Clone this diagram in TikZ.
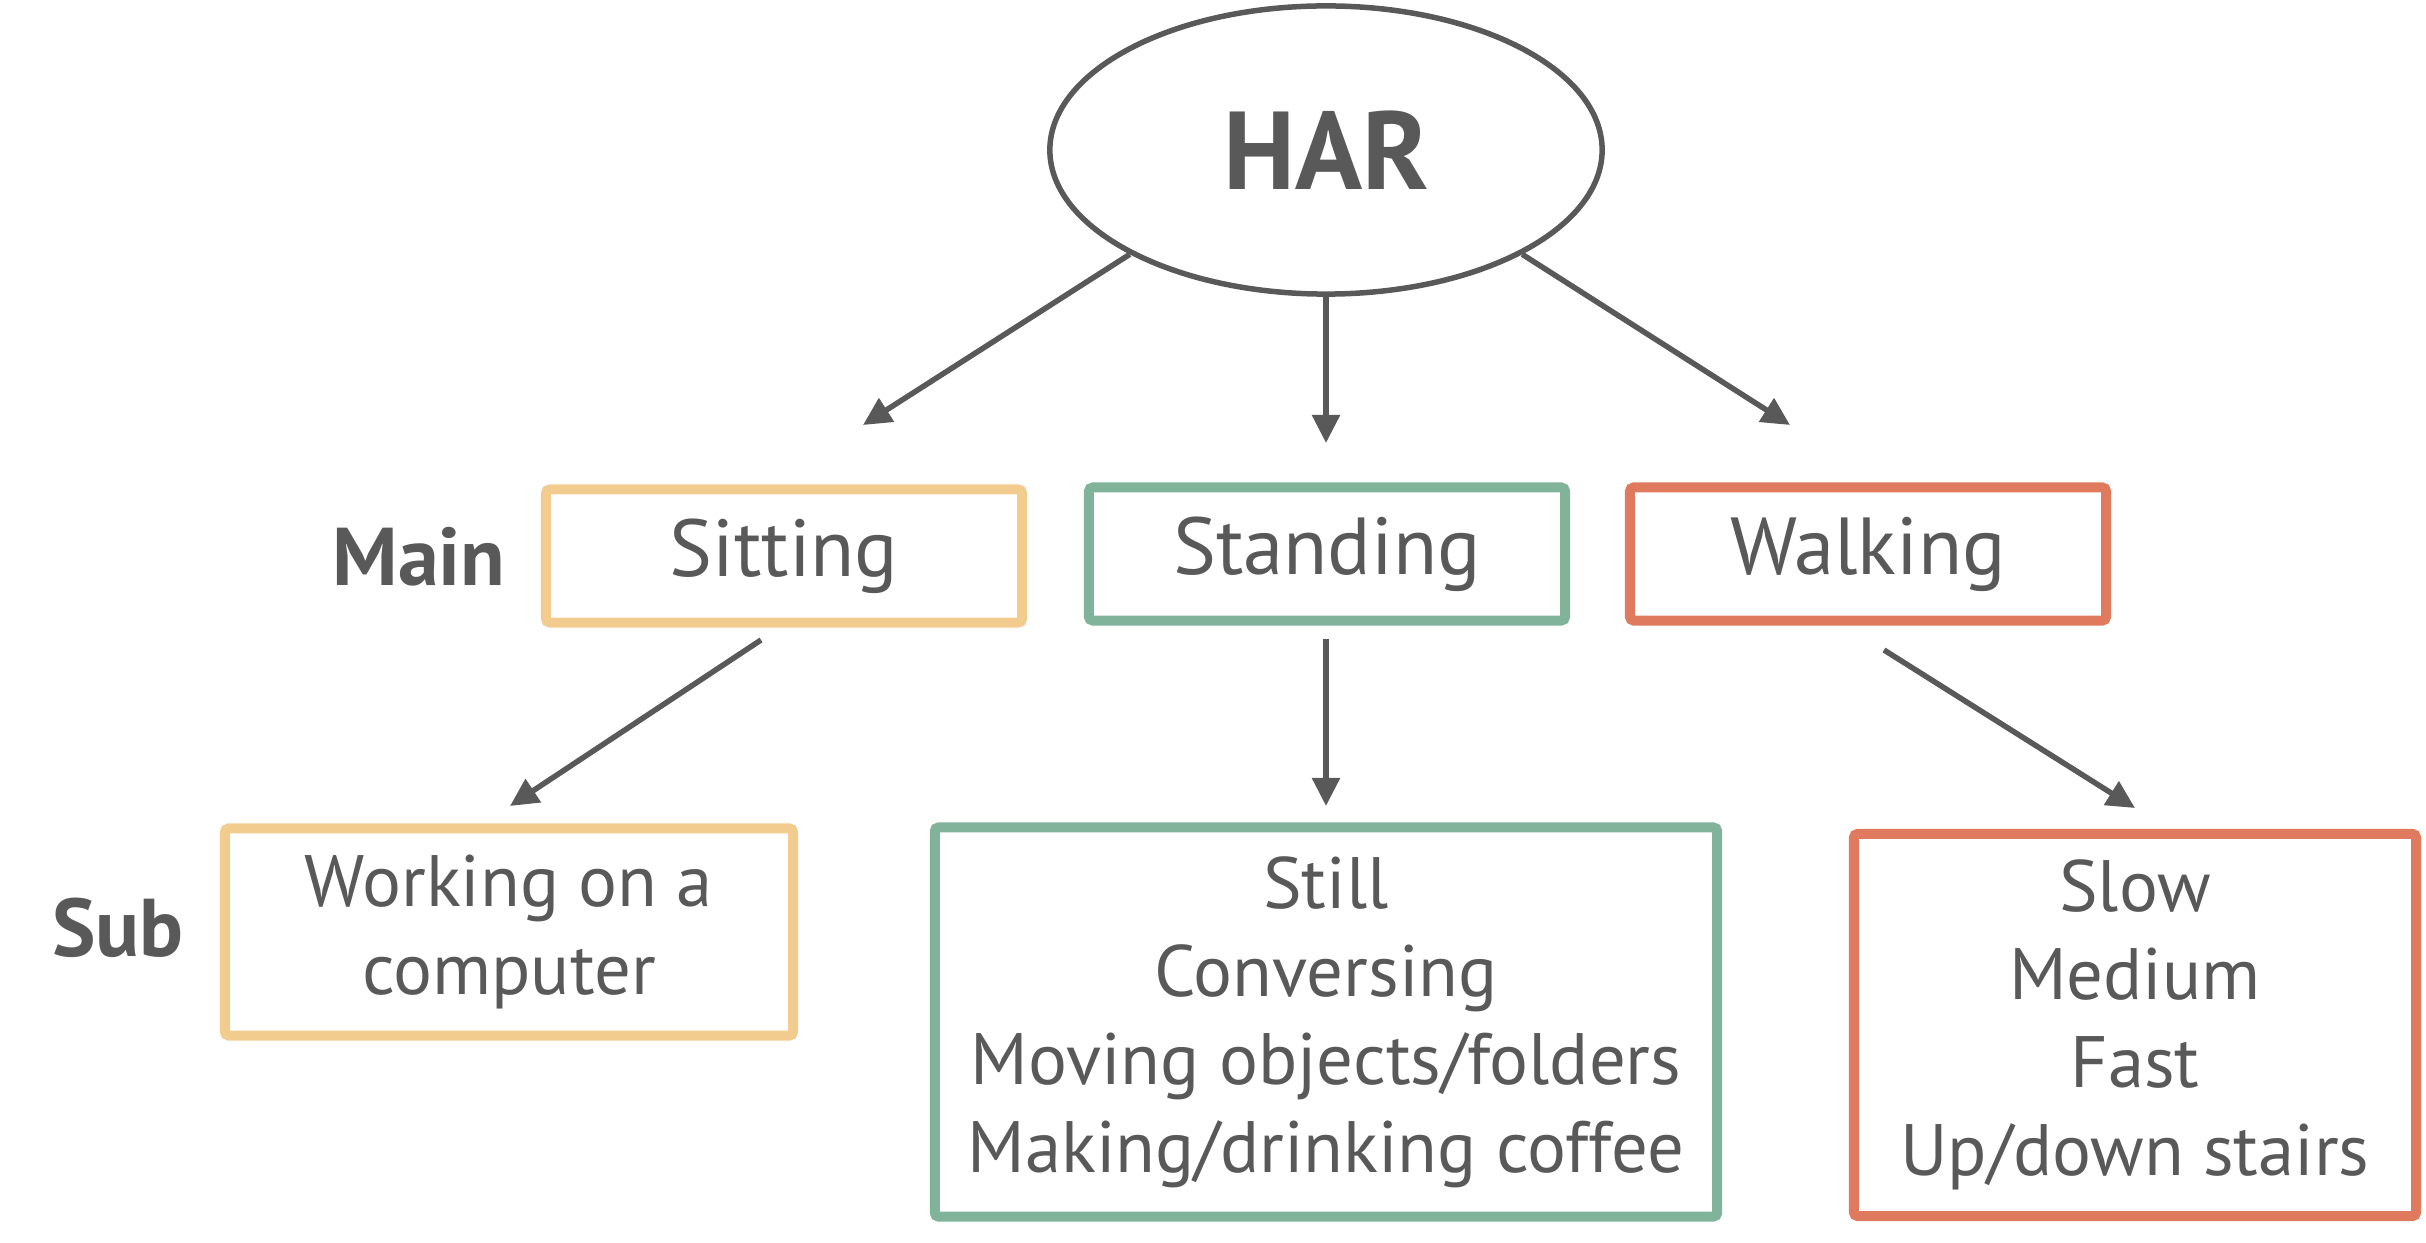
\documentclass[tikz,border=0pt]{standalone}
\usepackage{fontspec}
\setmainfont{PT Sans}
\usepackage{tikz}
\usetikzlibrary{positioning, shapes.geometric, arrows.meta}
\tikzstyle{diagram} = [x = .01cm, y = -.01cm]
\definecolor{textColor}{RGB}{89,89,89}
\definecolor{sittingColor}{RGB}{242,204,143}
\definecolor{standingColor}{RGB}{129,178,154}
\definecolor{walkingColor}{RGB}{224,122,95}
\tikzstyle{harStyle} = [ellipse, draw=textColor, line width=.055cm, minimum width=5.52cm, minimum height=2.88cm, inner sep=0, text=textColor, font=\fontsize{31.5}{36}\selectfont\bfseries]
\tikzstyle{levelText} = [text=textColor, inner sep=0, font=\fontsize{23.3}{28}\selectfont\bfseries]
\tikzstyle{activityStyle} = [rectangle, line width=.1cm, rounded corners=.04cm, text=textColor, align=center, inner sep=0]
\tikzstyle{mainActivity} = [activityStyle, minimum width=4.76cm, minimum height=1.33cm, font=\fontsize{23}{28}\selectfont]
\tikzstyle{subActivity} = [activityStyle, font=\fontsize{20.7}{25}\selectfont]
\tikzstyle{arrowStyle} = [draw=textColor, line width=.055cm, -{Triangle[length=.28cm, width=.27cm]}]
\newcommand{\activityArrow}[2]{\draw [arrowStyle] (#1) -- (#2);}

\begin{document}
\begin{tikzpicture}[diagram]
  \useasboundingbox (0,0) rectangle (2426,1243);
  % root
  \node [harStyle] (har) at (1326,150) {HAR};

  % main activities
  \node [mainActivity, draw=sittingColor] (sitting) at (784,556) {Sitting};
  \node [mainActivity, draw=standingColor] (standing) at (1327,554) {Standing};
  \node [mainActivity, draw=walkingColor] (walking) at (1868,554) {Walking};
  \node [levelText] (mainLabel) at (419,557) {Main};

  % sub activities
  \node [subActivity, draw=sittingColor, minimum width=5.68cm, minimum height=2.07cm] (working) at (509,932) {Working on a\\computer};
  \node [subActivity, draw=standingColor, minimum width=7.82cm, minimum height=3.89cm] (standingSub) at (1326,1022) {Still\\Conversing\\Moving objects/folders\\Making/drinking coffee};
  \node [subActivity, draw=walkingColor, minimum width=5.62cm, minimum height=3.82cm] (walkingSub) at (2135,1025) {Slow\\Medium\\Fast\\Up/down stairs};
  \node [levelText] (subLabel) at (118,928) {Sub};

  % arrow ends
  \coordinate (sittingTip) at (863,425);
  \coordinate (standingTip) at (1326,443);
  \coordinate (walkingTip) at (1790,425);
  \coordinate (sittingFoot) at (761,640);
  \coordinate (standingFoot) at (1326,639);
  \coordinate (walkingFoot) at (1884,650);
  \coordinate (workingTip) at (510,806);
  \coordinate (standingSubTip) at (1326,806);
  \coordinate (walkingSubTip) at (2135,808);

  \activityArrow{har.208}{sittingTip}
  \activityArrow{har.south}{standingTip}
  \activityArrow{har.332}{walkingTip}
  \activityArrow{sittingFoot}{workingTip}
  \activityArrow{standingFoot}{standingSubTip}
  \activityArrow{walkingFoot}{walkingSubTip}
\end{tikzpicture}
\end{document}
